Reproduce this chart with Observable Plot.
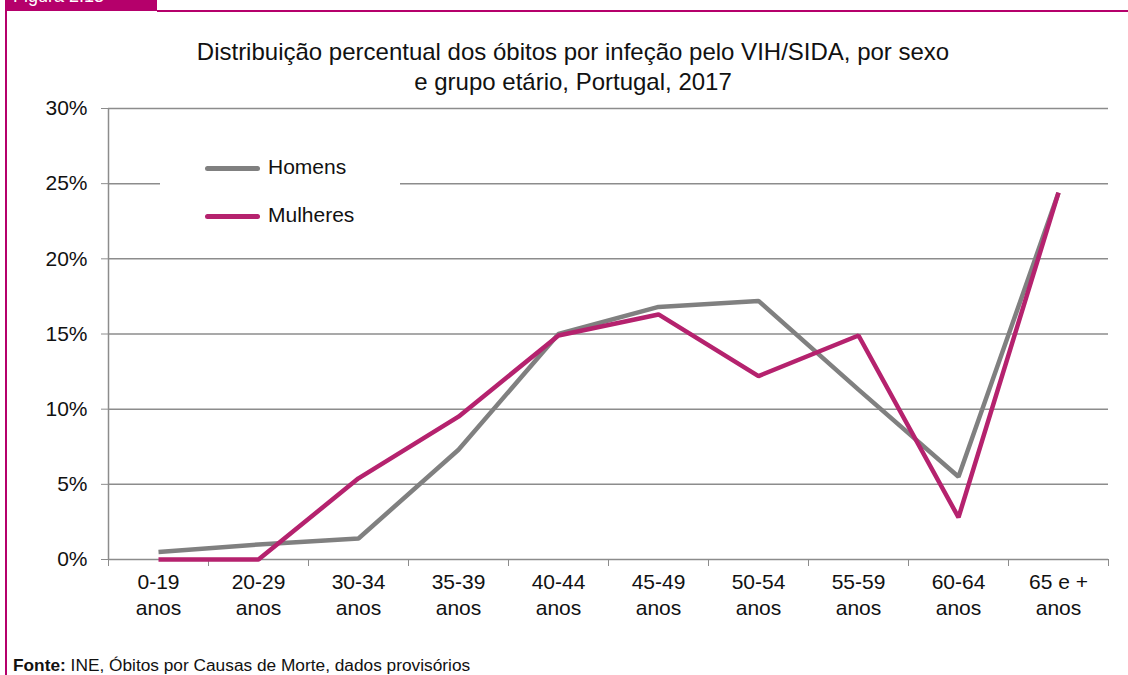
<!DOCTYPE html>
<html><head><meta charset="utf-8">
<script src="https://cdn.jsdelivr.net/npm/d3@7"></script>
<script src="https://cdn.jsdelivr.net/npm/@observablehq/plot@0.6"></script>
<style>
body{margin:0;background:#fff;font-family:"Liberation Sans",Arial,sans-serif;}
#wrap{position:relative;width:1128px;height:675px;overflow:hidden;}
#tab{position:absolute;left:5px;top:0;width:152px;height:11px;background:#b5006b;overflow:hidden;}
#tab span{position:absolute;left:8px;top:-14px;color:#fff;font-size:18px;}
#topline{position:absolute;left:157px;top:10px;width:971px;height:2px;background:#b5006b;}
#leftline{position:absolute;left:5px;top:11px;width:2px;height:664px;background:#b5006b;}
#title{position:absolute;left:108px;width:930px;top:37px;text-align:center;font-size:24px;line-height:30px;color:#111;}
#legend{position:absolute;left:160px;top:150px;width:240px;height:86px;background:#fff;font-size:21px;color:#111;}
.li{position:absolute;left:45px;height:20px;}
.li i{position:absolute;left:0;top:8px;width:55px;height:5px;border-radius:3px;}
.li span{position:absolute;left:63px;top:-3px;white-space:nowrap;}
#src{position:absolute;left:13px;top:655px;font-size:17.3px;color:#111;}
#chart{position:absolute;left:0;top:0;}
</style></head>
<body>
<div id="wrap">
<div id="chart"></div>
<div id="tab"><span>Figura 2.13</span></div>
<div id="topline"></div>
<div id="leftline"></div>
<div id="title">Distribuição percentual dos óbitos por infeção pelo VIH/SIDA, por sexo<br>e grupo etário, Portugal, 2017</div>
<div id="legend"></div>
<div id="src"><b>Fonte:</b> INE, Óbitos por Causas de Morte, dados provisórios</div>
</div>
<script>
const categories = ["0-19\nanos","20-29\nanos","30-34\nanos","35-39\nanos","40-44\nanos","45-49\nanos","50-54\nanos","55-59\nanos","60-64\nanos","65 e +\nanos"];
const homens   = [0.5, 1.0, 1.4, 7.3, 15.0, 16.8, 17.2, 11.3, 5.5, 24.4];
const mulheres = [0.0, 0.0, 5.4, 9.5, 14.9, 16.3, 12.2, 14.9, 2.8, 24.4];
const seriesNames = ["Homens","Mulheres"];
const seriesColors = ["#808080","#b5226e"];
const yTicks = [0,5,10,15,20,25,30];

const data = [];
categories.forEach((c,i)=>{
  data.push({cat:c, serie:seriesNames[0], v:homens[i]});
  data.push({cat:c, serie:seriesNames[1], v:mulheres[i]});
});

const gridColor = "#8c8c8c";
const chart = Plot.plot({
  width:1128, height:640,
  marginTop:108, marginLeft:108, marginRight:20, marginBottom:81,
  style:{fontFamily:"'Liberation Sans', Arial, sans-serif", fontSize:"21px", color:"#111", background:"transparent"},
  x:{type:"point", domain:categories, padding:0.5, label:null},
  y:{domain:[0,30], label:null},
  color:{domain:seriesNames, range:seriesColors},
  marks:[
    Plot.gridY(yTicks.slice(1), {stroke:gridColor, strokeOpacity:1, strokeWidth:1.5}),
    Plot.ruleY([0], {stroke:gridColor, strokeWidth:1.5}),
    Plot.ruleX([categories[0]], {dx:-50, stroke:gridColor, strokeWidth:1.5}),
    Plot.axisY(yTicks, {tickSize:7, stroke:gridColor, tickPadding:14, tickFormat:d=>d+"%", fontSize:21, fill:"#111"}),
    Plot.axisX(categories, {tickSize:7, dx:-50, text:null, stroke:gridColor}),
    Plot.axisX([categories[categories.length-1]], {tickSize:7, dx:50, text:null, stroke:gridColor}),
    Plot.axisX(categories, {tickSize:0, tickPadding:12, fontSize:21, fill:"#111", lineHeight:1.2}),
    Plot.line(data, {x:"cat", y:"v", z:"serie", stroke:"serie", strokeWidth:4.5, strokeLinejoin:"miter", strokeLinecap:"butt"})
  ]
});
document.getElementById("chart").appendChild(chart);

const leg = document.getElementById("legend");
seriesNames.forEach((n,i)=>{
  const d = document.createElement("div");
  d.className="li"; d.style.top = (8 + i*48) + "px";
  d.innerHTML = `<i style="background:${seriesColors[i]}"></i><span>${n}</span>`;
  leg.appendChild(d);
});
</script>
</body></html>
